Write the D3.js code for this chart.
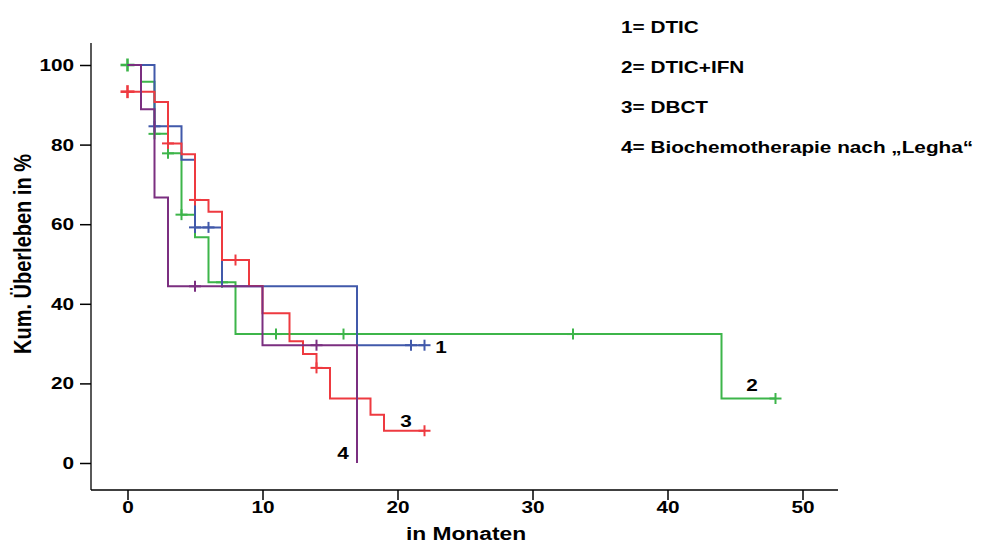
<!DOCTYPE html>
<html>
<head>
<meta charset="utf-8">
<script src="https://cdn.jsdelivr.net/npm/d3@7"></script>
<style>
  html, body { margin: 0; padding: 0; background: #fff; }
  svg { display: block; }
  text { font-family: "Liberation Sans", Arial, sans-serif; font-weight: bold; fill: #000; }
</style>
</head>
<body>
<svg id="chart" width="984" height="544"></svg>
<script>
// Kaplan-Meier survival by treatment group (months, cumulative survival %)
const legendLabels = ["1= DTIC", "2= DTIC+IFN", "3= DBCT", "4= Biochemotherapie nach \u201ELegha\u201C"];
const curveLabels = ["1", "2", "3", "4"];
const xTicks = [0, 10, 20, 30, 40, 50];
const yTicks = [0, 20, 40, 60, 80, 100];

// 1 = DTIC
const dticTimes = [0, 2, 4, 5, 7, 17];
const dticSurv = [100, 84.6, 76.2, 59.2, 44.4, 29.6];
const dticEnd = 22;
const dticCensored = [2, 5, 6, 21, 22];

// 2 = DTIC+IFN
const ifnTimes = [0, 1, 2, 3, 4, 5, 6, 8, 44];
const ifnSurv = [100, 95.8, 82.7, 77.8, 62.4, 56.7, 45.4, 32.4, 16.2];
const ifnEnd = 48;
const ifnCensored = [0, 2, 3, 4, 7, 11, 16, 33, 48];

// 3 = DBCT
const dbctTimes = [0, 2, 3, 4, 5, 6, 7, 9, 10, 12, 13, 14, 15, 18, 19];
const dbctSurv = [93.3, 90.7, 80.3, 77.6, 66.1, 63.1, 51.0, 44.5, 37.6, 30.6, 27.4, 23.9, 16.2, 12.1, 8.1];
const dbctEnd = 22;
const dbctCensored = [0, 3, 5, 8, 14, 22];

// 4 = Biochemotherapie nach Legha
const leghaTimes = [0, 1, 2, 3, 10, 17];
const leghaSurv = [100, 88.9, 66.7, 44.4, 29.6, 0];
const leghaEnd = 17;
const leghaCensored = [5, 14];

const groups = [
  { id: "2", times: ifnTimes, surv: ifnSurv, end: ifnEnd, censored: ifnCensored, color: "#3DB54A" },
  { id: "1", times: dticTimes, surv: dticSurv, end: dticEnd, censored: dticCensored, color: "#4159AA" },
  { id: "3", times: dbctTimes, surv: dbctSurv, end: dbctEnd, censored: dbctCensored, color: "#EE3A40" },
  { id: "4", times: leghaTimes, surv: leghaSurv, end: leghaEnd, censored: leghaCensored, color: "#7B2F80" }
];

// horizontal stretch used for all lettering
const SX = 1.2;
const FS = "17.3px";

const svg = d3.select("#chart");
const x = d3.scaleLinear().domain([0, 50]).range([127.5, 802.5]);
const y = d3.scaleLinear().domain([0, 100]).range([463, 65]);

const axisX0 = 91, axisY0 = 490;

// axes lines
svg.append("line").attr("x1", axisX0).attr("x2", axisX0).attr("y1", 43).attr("y2", axisY0)
  .attr("stroke", "#000").attr("stroke-width", 1.3);
svg.append("line").attr("x1", axisX0).attr("x2", 838).attr("y1", axisY0).attr("y2", axisY0)
  .attr("stroke", "#000").attr("stroke-width", 1.3);

// y axis ticks
const gy = svg.append("g").attr("transform", `translate(${axisX0},0)`)
  .call(d3.axisLeft(y).tickValues(yTicks).tickSize(11).tickFormat(d3.format("d")));
gy.select(".domain").remove();
gy.selectAll(".tick line").attr("stroke", "#000").attr("stroke-width", 1.5);
gy.selectAll(".tick text")
  .attr("x", -17 / SX)
  .attr("transform", `scale(${SX},1)`)
  .style("font-size", FS).style("font-family", "Liberation Sans, Arial, sans-serif")
  .style("font-weight", "bold").attr("fill", "#000");

// x axis ticks
const gx = svg.append("g").attr("transform", `translate(0,${axisY0})`)
  .call(d3.axisBottom(x).tickValues(xTicks).tickSize(10).tickFormat(d3.format("d")));
gx.select(".domain").remove();
gx.selectAll(".tick line").attr("stroke", "#000").attr("stroke-width", 1.5);
gx.selectAll(".tick text")
  .attr("y", 10.5)
  .attr("transform", `scale(${SX},1)`)
  .style("font-size", FS).style("font-family", "Liberation Sans, Arial, sans-serif")
  .style("font-weight", "bold").attr("fill", "#000");

// axis titles
svg.append("text")
  .attr("transform", `translate(466,540) scale(${SX},1)`)
  .attr("text-anchor", "middle")
  .style("font-size", "19px")
  .text("in Monaten");
svg.append("text")
  .attr("transform", `translate(31,254) scale(${SX},1) rotate(-90)`)
  .attr("text-anchor", "middle")
  .style("font-size", "20px")
  .text("Kum. \u00DCberleben in %");

// survival step curves
const line = d3.line().x(d => x(d[0])).y(d => y(d[1])).curve(d3.curveStepAfter);
function survAt(g, t) {
  let v = g.surv[0];
  g.times.forEach((tt, i) => { if (tt <= t) v = g.surv[i]; });
  return v;
}

groups.forEach(g => {
  const pts = g.times.map((t, i) => [t, g.surv[i]]);
  const last = g.surv[g.surv.length - 1];
  if (g.end > g.times[g.times.length - 1]) pts.push([g.end, last]);
  const layer = svg.append("g");
  layer.append("path").attr("d", line(pts))
    .attr("fill", "none").attr("stroke", g.color).attr("stroke-width", 2);
  // censoring marks
  g.censored.forEach(t => {
    const cx = x(t), cy = y(survAt(g, t));
    const big = t === 0;
    const h = big ? 7 : 6, v = big ? 6.5 : 5.5;
    layer.append("line").attr("x1", cx - h).attr("x2", cx + h).attr("y1", cy).attr("y2", cy)
      .attr("stroke", g.color).attr("stroke-width", big ? 2.6 : 2);
    layer.append("line").attr("x1", cx).attr("x2", cx).attr("y1", cy - v).attr("y2", cy + v)
      .attr("stroke", g.color).attr("stroke-width", big ? 2.6 : 2);
  });
});

// curve number labels
const labelPos = { "1": [441, 353], "2": [752, 391], "3": [406, 427], "4": [343, 459] };
curveLabels.forEach(id => {
  const p = labelPos[id];
  svg.append("text")
    .attr("transform", `translate(${p[0]},${p[1]}) scale(${SX},1)`)
    .attr("text-anchor", "middle")
    .style("font-size", FS)
    .text(id);
});

// legend text
legendLabels.forEach((t, i) => {
  svg.append("text")
    .attr("transform", `translate(621,${33 + i * 40}) scale(${SX},1)`)
    .style("font-size", FS)
    .text(t);
});
</script>
</body>
</html>
